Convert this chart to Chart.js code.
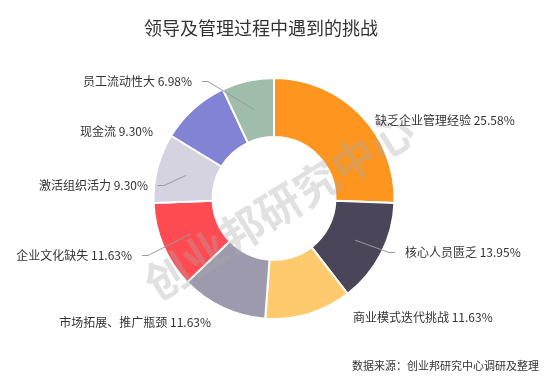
<!DOCTYPE html>
<html>
<head>
<meta charset="utf-8">
<script src="https://cdn.jsdelivr.net/npm/chart.js@4.4.0/dist/chart.umd.min.js"></script>
<style>
  body { margin: 0; background: #fff; }
  #wrap { width: 550px; height: 391px; }
</style>
</head>
<body>
<div id="wrap"><canvas id="challengeChart" width="550" height="391"></canvas></div>
<script>
// data
const categories = ['缺乏企业管理经验', '核心人员匮乏', '商业模式迭代挑战', '市场拓展、推广瓶颈',
                    '企业文化缺失', '激活组织活力', '现金流', '员工流动性大'];
const shares = [25.58, 13.95, 11.63, 11.63, 11.63, 9.30, 9.30, 6.98];
const sliceColors = ['#FD951F', '#4A4559', '#FFCA6E', '#9D9AAD', '#FF4B51', '#D4D3DF', '#8383D6', '#9FBDAA'];

const titleText = '领导及管理过程中遇到的挑战';
const sourceText = '数据来源：创业邦研究中心调研及整理';
const watermark = '创业邦研究中心';

// where each label's leader line ends, relative to the chart centre (px)
const labelSpots = [
  { end: [101, -78], line: false },
  { end: [121, 54], line: true },
  { end: [79, 119], line: false },
  { end: [-63, 124], line: false },
  { end: [-132, 57], line: true },
  { end: [-116, -13], line: true },
  { end: [-121, -67], line: false },
  { end: [-72, -117], line: true }
];

const labelPlugin = {
  id: 'outsideLabels',
  afterDraw(chart) {
    const ctx = chart.ctx;
    const arcs = chart.getDatasetMeta(0).data;
    const cx = arcs[0].x, cy = arcs[0].y;

    // watermark over the ring
    ctx.save();
    ctx.translate(cx + 5, cy + 8);
    ctx.rotate(-32 * Math.PI / 180);
    ctx.font = 'bold 44px "Noto Sans CJK SC"';
    ctx.fillStyle = 'rgba(170,170,170,0.35)';
    ctx.textAlign = 'center';
    ctx.textBaseline = 'middle';
    ctx.fillText(watermark, 0, 0);
    ctx.restore();

    ctx.save();
    ctx.font = '12px "Noto Sans CJK SC"';
    ctx.textBaseline = 'middle';
    arcs.forEach((arc, i) => {
      const p = arc.getProps(['startAngle', 'endAngle', 'innerRadius', 'outerRadius']);
      const mid = (p.startAngle + p.endAngle) / 2;
      const r = (p.innerRadius + p.outerRadius) / 2;
      const sx = cx + Math.cos(mid) * r, sy = cy + Math.sin(mid) * r;
      const spot = labelSpots[i];
      const ex = cx + spot.end[0], ey = cy + spot.end[1];
      const right = spot.end[0] > 0;
      if (spot.line) {
        const kx = ex + (right ? -6 : 6);
        ctx.strokeStyle = '#9a9a9a';
        ctx.lineWidth = 1;
        ctx.beginPath();
        ctx.moveTo(sx, sy);
        ctx.lineTo(kx, ey);
        ctx.lineTo(ex, ey);
        ctx.stroke();
      }
      const gap = spot.line ? 10 : 0;
      ctx.fillStyle = '#333';
      ctx.textAlign = right ? 'left' : 'right';
      ctx.fillText(categories[i] + ' ' + shares[i].toFixed(2) + '%', ex + (right ? gap : -gap), ey);
    });

    // title and source note
    ctx.fillStyle = '#333';
    ctx.textAlign = 'center';
    ctx.font = '18px "Noto Sans CJK SC"';
    ctx.fillText(titleText, 261, 28);
    ctx.textAlign = 'left';
    ctx.font = '11px "Noto Sans CJK SC"';
    ctx.fillText(sourceText, 352, 366);
    ctx.restore();
  }
};

const ctx = document.getElementById('challengeChart').getContext('2d');
new Chart(ctx, {
  type: 'doughnut',
  data: {
    labels: categories,
    datasets: [{
      data: shares,
      backgroundColor: sliceColors,
      borderColor: '#fff',
      borderWidth: 2
    }]
  },
  options: {
    responsive: false,
    animation: false,
    cutout: '51%',
    layout: { padding: { top: 77, bottom: 71, left: 152, right: 154 } },
    plugins: {
      legend: { display: false },
      tooltip: { enabled: false }
    }
  },
  plugins: [labelPlugin]
});
</script>
</body>
</html>
